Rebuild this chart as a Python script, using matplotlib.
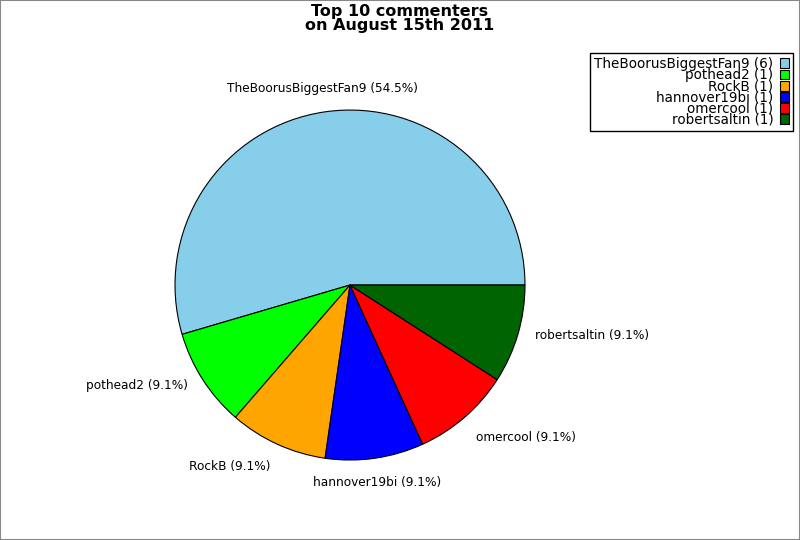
import numpy as np
import matplotlib
matplotlib.use('Agg')
import matplotlib.pyplot as plt
from matplotlib.patches import Rectangle

# top commenters and their comment counts
names = ['TheBoorusBiggestFan9', 'pothead2', 'RockB', 'hannover19bi', 'omercool', 'robertsaltin']
counts = [6, 1, 1, 1, 1, 1]
colors = ['#87ceeb', '#00ff00', '#ffa500', '#0000ff', '#ff0000', '#006400']
title = 'Top 10 commenters\non August 15th 2011'

total = float(sum(counts))
pie_labels = ['%s (%.1f%%)' % (n, 100.0 * c / total) for n, c in zip(names, counts)]
legend_labels = ['%s (%d)' % (n, c) for n, c in zip(names, counts)]

fig = plt.figure(figsize=(8, 5.4), dpi=100)
fig.patches.append(Rectangle((0, 0), 1, 1, transform=fig.transFigure,
                             fill=False, edgecolor='#888888', linewidth=1.5))

ax = fig.add_axes([0.21875, 0.1481, 0.4375, 0.6481])
wedges, texts = ax.pie(counts, labels=pie_labels, colors=colors, startangle=0,
                       counterclock=True, labeldistance=1.1,
                       wedgeprops={'edgecolor': 'black', 'linewidth': 0.8},
                       textprops={'fontsize': 8.7})
ax.set_xlim(-1, 1)
ax.set_ylim(-1, 1)
ax.set_aspect('equal')
ax.axis('off')

# label alignment like the old chart: centred near the top/bottom
for t in texts:
    x, y = t.get_position()
    if abs(x) < 0.3:
        t.set_ha('center')
    if y > 0.9:
        t.set_va('bottom')
    elif y < -0.8:
        t.set_va('top')
    elif y < -0.3:
        t.set_y(y + 0.02)

fig.text(0.5, 0.993, title, ha='center', va='top', fontsize=11.5,
         fontweight='bold', linespacing=0.9)

leg = fig.legend(wedges, legend_labels, loc='upper right',
                 bbox_to_anchor=(793 / 800.0, 1 - 53 / 540.0),
                 markerfirst=False, fontsize=9.75, labelspacing=-0.21,
                 handlelength=0.65, handleheight=0.75, handletextpad=0.5,
                 borderpad=0.3, borderaxespad=0, fancybox=False,
                 framealpha=1, edgecolor='black')
leg.get_frame().set_linewidth(1)

plt.savefig('out.png', dpi=100)
